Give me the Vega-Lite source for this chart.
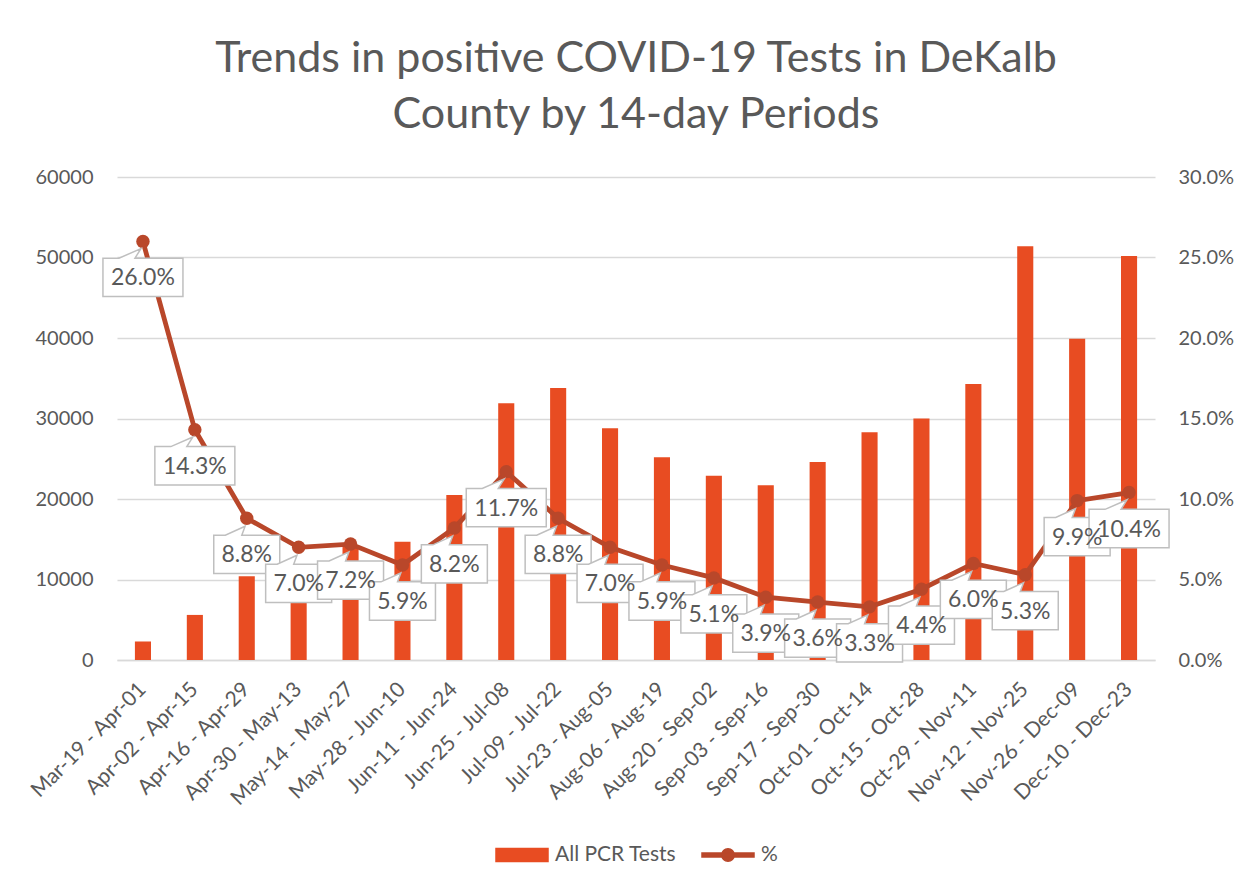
{
  "$schema": "https://vega.github.io/schema/vega-lite/v6.json",
  "width": 1038,
  "height": 483,
  "autosize": "none",
  "padding": {"left": 117, "top": 177, "right": 98, "bottom": 228},
  "background": "white",
  "config": {"font": "Lato", "view": {"stroke": null}},
  "title": {
    "text": ["Trends in positive COVID-19 Tests in DeKalb", "County by 14-day Periods"],
    "fontSize": 43,
    "fontWeight": "normal",
    "color": "#595959",
    "anchor": "middle",
    "frame": "group",
    "lineHeight": 56,
    "offset": 30
  },
  "data": {"values": [
    {"period": "Mar-19 - Apr-01", "tests": 2300, "pct": 0.260},
    {"period": "Apr-02 - Apr-15", "tests": 5600, "pct": 0.143},
    {"period": "Apr-16 - Apr-29", "tests": 10400, "pct": 0.088},
    {"period": "Apr-30 - May-13", "tests": 10800, "pct": 0.070},
    {"period": "May-14 - May-27", "tests": 14300, "pct": 0.072},
    {"period": "May-28 - Jun-10", "tests": 14700, "pct": 0.059},
    {"period": "Jun-11 - Jun-24", "tests": 20500, "pct": 0.082},
    {"period": "Jun-25 - Jul-08", "tests": 31900, "pct": 0.117},
    {"period": "Jul-09 - Jul-22", "tests": 33800, "pct": 0.088},
    {"period": "Jul-23 - Aug-05", "tests": 28800, "pct": 0.070},
    {"period": "Aug-06 - Aug-19", "tests": 25200, "pct": 0.059},
    {"period": "Aug-20 - Sep-02", "tests": 22900, "pct": 0.051},
    {"period": "Sep-03 - Sep-16", "tests": 21700, "pct": 0.039},
    {"period": "Sep-17 - Sep-30", "tests": 24600, "pct": 0.036},
    {"period": "Oct-01 - Oct-14", "tests": 28300, "pct": 0.033},
    {"period": "Oct-15 - Oct-28", "tests": 30000, "pct": 0.044},
    {"period": "Oct-29 - Nov-11", "tests": 34300, "pct": 0.060},
    {"period": "Nov-12 - Nov-25", "tests": 51400, "pct": 0.053},
    {"period": "Nov-26 - Dec-09", "tests": 39900, "pct": 0.099},
    {"period": "Dec-10 - Dec-23", "tests": 50200, "pct": 0.104}
  ]},
  "encoding": {
    "x": {
      "field": "period", "type": "nominal", "sort": null,
      "scale": {"paddingInner": 0, "paddingOuter": 0},
      "axis": {
        "title": null, "labelAngle": -45, "labelFontSize": 21, "labelColor": "#595959",
        "ticks": false, "labelPadding": 26, "domainColor": "#D9D9D9", "domainWidth": 1.5,
        "labelAlign": "right", "labelBaseline": "middle"
      }
    }
  },
  "layer": [
    {
      "mark": {"type": "bar", "width": {"band": 0.31}},
      "encoding": {
        "y": {
          "field": "tests", "type": "quantitative",
          "scale": {"domain": [0, 60000]},
          "axis": {
            "title": null, "values": [0, 10000, 20000, 30000, 40000, 50000, 60000],
            "format": "d", "labelFontSize": 20, "labelColor": "#595959",
            "ticks": false, "domain": false, "labelPadding": 24,
            "gridColor": "#D9D9D9", "gridWidth": 1.3
          }
        },
        "color": {
          "datum": "All PCR Tests",
          "scale": {"domain": ["All PCR Tests", "%"], "range": ["#E84C22", "#B9472A"]},
          "legend": {
            "title": null, "orient": "none", "direction": "horizontal",
            "legendX": 378, "legendY": 651,
            "labelFontSize": 21, "labelColor": "#595959", "labelOffset": 6,
            "symbolSize": 2704, "columnPadding": 22,
            "encode": {
              "symbols": {"update": {
                "shape": {"signal": "datum.value === '%' ? 'M-1,-0.08H1V0.08H-1Z M0.24,0 A0.24,0.24 0 1 1 -0.24,0 A0.24,0.24 0 1 1 0.24,0 Z' : 'M-1,-0.25H1V0.25H-1Z'"},
                "fill": {"signal": "datum.value === '%' ? '#B9472A' : '#E84C22'"},
                "stroke": {"value": "transparent"},
                "opacity": {"value": 1},
                "fillOpacity": {"value": 1}
              }}
            }
          }
        }
      }
    },
    {
      "encoding": {
        "y": {
          "field": "pct", "type": "quantitative",
          "scale": {"domain": [0, 0.3]},
          "axis": {
            "title": null, "orient": "right", "values": [0, 0.05, 0.1, 0.15, 0.2, 0.25, 0.3],
            "format": ".1%", "labelFontSize": 20, "labelColor": "#595959",
            "ticks": false, "domain": false, "grid": false, "labelPadding": 23
          }
        }
      },
      "layer": [
        {
          "mark": {"type": "line", "strokeWidth": 4.8, "point": {"filled": true, "size": 180}},
          "encoding": {"color": {"datum": "%"}}
        },
        {
          "transform": [{"filter": "datum.pct < 0.1"}],
          "mark": {
            "type": "point", "filled": true, "fill": "white", "stroke": "#BFBFBF", "strokeWidth": 1.5,
            "fillOpacity": 1, "opacity": 1, "size": 4356, "yOffset": 36,
            "shape": "M-1,-0.58 H-0.65 L-0.05,-0.85 L-0.15,-0.58 H1 V0.58 H-1 Z"
          }
        },
        {
          "transform": [{"filter": "datum.pct >= 0.1"}],
          "mark": {
            "type": "point", "filled": true, "fill": "white", "stroke": "#BFBFBF", "strokeWidth": 1.5,
            "fillOpacity": 1, "opacity": 1, "size": 6400, "yOffset": 36,
            "shape": "M-1,-0.48 H-0.6 L-0.05,-0.72 L-0.2,-0.48 H1 V0.48 H-1 Z"
          }
        },
        {
          "mark": {"type": "text", "fontSize": 23, "color": "#595959", "yOffset": 37, "baseline": "middle", "align": "center"},
          "encoding": {"text": {"field": "pct", "type": "quantitative", "format": ".1%"}}
        }
      ]
    }
  ],
  "resolve": {"scale": {"y": "independent"}}
}
